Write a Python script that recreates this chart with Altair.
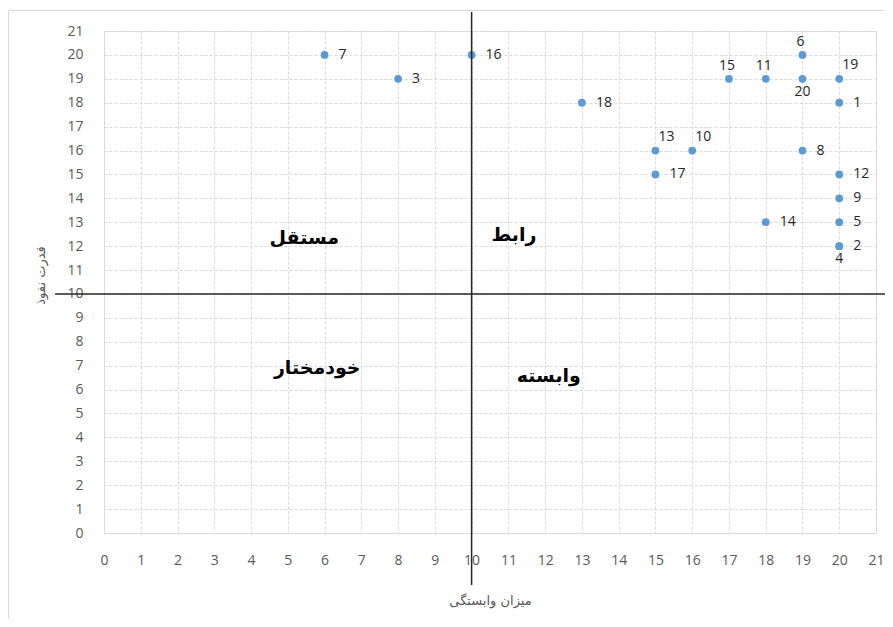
import altair as alt
import pandas as pd

# data: dependence (x), driving power (y), factor number
ids = [1, 2, 3, 4, 5, 6, 7, 8, 9, 10, 11, 12, 13, 14, 15, 16, 17, 18, 19, 20]
dependence = [20, 20, 8, 20, 20, 19, 6, 19, 20, 16, 18, 20, 15, 18, 17, 10, 15, 13, 20, 19]
driving = [18, 12, 19, 12, 13, 20, 20, 16, 14, 16, 19, 15, 16, 13, 19, 20, 15, 18, 19, 19]

label_above = [6, 15, 11]
label_above_right = [19, 13, 10]
label_below = [20, 4]

quad_names = ["مستقل", "رابط", "خودمختار", "وابسته"]
quad_x = [5.45, 11.15, 5.8, 12.1]
quad_y = [12.35, 12.45, 6.9, 6.55]

ticks = list(range(0, 22))

df = pd.DataFrame({"id": ids, "x": dependence, "y": driving})
df["label"] = df["id"].astype(str)


def place(i):
    if i in label_above:
        return "t"
    if i in label_above_right:
        return "tr"
    if i in label_below:
        return "b"
    return "r"


df["place"] = df["id"].apply(place)

qdf = pd.DataFrame({"name": quad_names, "x": quad_x, "y": quad_y})

W, H = 772, 502
xs = alt.Scale(domain=[0, 21], nice=False, zero=False)
ys = alt.Scale(domain=[0, 21], nice=False, zero=False)

xaxis = alt.Axis(values=ticks, title="میزان وابستگی", grid=True, ticks=False, domain=False,
                 labelOverlap=False, labelFlush=False, tickCount=22,
                 labelPadding=20, labelFontSize=14, labelColor="#595959", labelFont="Open Sans",
                 titleFont="DejaVu Sans", titleFontSize=13, titleFontWeight="normal",
                 titleColor="#595959", titleX=W / 2, titleY=67, titleBaseline="middle",
                 gridColor="#d9d9d9", gridDash=[3, 2], gridWidth=1)
yaxis = alt.Axis(values=ticks, title="قدرت نفوذ", grid=True, ticks=False, domain=False,
                 labelOverlap=False, labelFlush=False, tickCount=22,
                 labelPadding=21, labelFontSize=14, labelColor="#595959", labelFont="Open Sans",
                 titleFont="DejaVu Sans", titleFontSize=13, titleFontWeight="normal",
                 titleColor="#595959", titleX=-64, titleY=244, titleBaseline="middle",
                 titleAngle=270, gridColor="#d9d9d9", gridDash=[3, 2], gridWidth=1)

X = alt.X("x:Q", scale=xs, axis=xaxis)
Y = alt.Y("y:Q", scale=ys, axis=yaxis)

base = alt.Chart(df)

points = base.mark_circle(size=60, color="#5b9bd5", opacity=1).encode(x=X, y=Y)

txt = dict(fontSize=14, font="Open Sans", color="#262626", baseline="middle")
lab_r = base.transform_filter(alt.datum.place == "r").mark_text(align="left", dx=14, **txt).encode(
    x=X, y=Y, text="label:N")
lab_t = base.transform_filter(alt.datum.place == "t").mark_text(align="center", dx=-2, dy=-13, **txt).encode(
    x=X, y=Y, text="label:N")
lab_tr = base.transform_filter(alt.datum.place == "tr").mark_text(align="center", dx=11, dy=-14, **txt).encode(
    x=X, y=Y, text="label:N")
lab_b = base.transform_filter(alt.datum.place == "b").mark_text(align="center", dy=13, **txt).encode(
    x=X, y=Y, text="label:N")

quads = alt.Chart(qdf).mark_text(font="DejaVu Sans", fontWeight="bold", fontSize=19,
                                 color="#000000", align="center", baseline="middle").encode(
    x=X, y=Y, text="name:N")

mid = pd.DataFrame({"x": [10], "y": [10]})
vline = alt.Chart(mid).mark_rule(color="#262626", strokeWidth=1.5).encode(
    x=X, y=alt.value(-19), y2=alt.value(554))
hline = alt.Chart(mid).mark_rule(color="#262626", strokeWidth=1.5).encode(
    y=Y, x=alt.value(-49), x2=alt.value(800))

frame = alt.Chart(mid).mark_rect(fill=None, stroke="#d9d9d9", strokeWidth=1).encode(
    x=alt.value(-95.5), x2=alt.value(820), y=alt.value(-20.5), y2=alt.value(620))

chart = alt.layer(points, frame, vline, hline, quads, lab_r, lab_t, lab_tr, lab_b).properties(
    width=W, height=H,
    autosize=alt.AutoSizeParams(type="none"),
    padding={"left": 96, "top": 23, "right": 9, "bottom": 86},
).configure_view(stroke="#d9d9d9", strokeWidth=1).configure(background="white")

chart.save("out.html", embed_options={"renderer": "svg", "actions": False})
